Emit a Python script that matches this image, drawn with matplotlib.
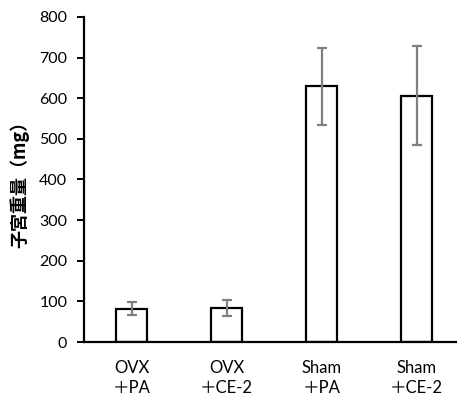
import matplotlib
matplotlib.use("Agg")
import matplotlib.pyplot as plt

categories = ["OVX\n＋PA", "OVX\n＋CE-2", "Sham\n＋PA", "Sham\n＋CE-2"]
values = [82, 84, 629, 606]
errors = [16, 20, 94, 122]
yticks = [0, 100, 200, 300, 400, 500, 600, 700, 800]
ylabel = "子宮重量（mg）"

fig = plt.figure(figsize=(4.57, 3.98), dpi=100)
ax = fig.add_axes([84/457, 56/398, 380/457, 325/398])

x = list(range(len(categories)))
ax.bar(x, values, width=0.33, color="white", edgecolor="black", linewidth=1.6, zorder=2)
ax.errorbar(x, values, yerr=errors, fmt="none", ecolor="#7f7f7f", elinewidth=1.6,
            capsize=3.3, capthick=1.6, zorder=3)

ax.set_xlim(-0.5, 3.5)
ax.set_ylim(0, 800)
ax.set_yticks(yticks)
ax.set_xticks(x)
ax.set_xticklabels(categories, family=["Lato", "Noto Sans CJK JP"], fontsize=12,
                   linespacing=1.3)
for lab in ax.get_yticklabels():
    lab.set_family(["Lato", "Noto Sans CJK JP"])
    lab.set_fontsize(11.5)
ax.tick_params(axis="y", direction="out", length=5, width=1.4, pad=7, colors="black")
ax.tick_params(axis="x", length=0, pad=13)
for s in ["top", "right"]:
    ax.spines[s].set_visible(False)
for s in ["left", "bottom"]:
    ax.spines[s].set_linewidth(1.6)
    ax.spines[s].set_color("black")

ax.set_ylabel(ylabel, family=["Noto Sans CJK JP", "DejaVu Sans"], fontsize=13,
              fontweight="bold")
ax.yaxis.set_label_coords(-0.145, 0.50)

fig.savefig("out.png", dpi=100)
